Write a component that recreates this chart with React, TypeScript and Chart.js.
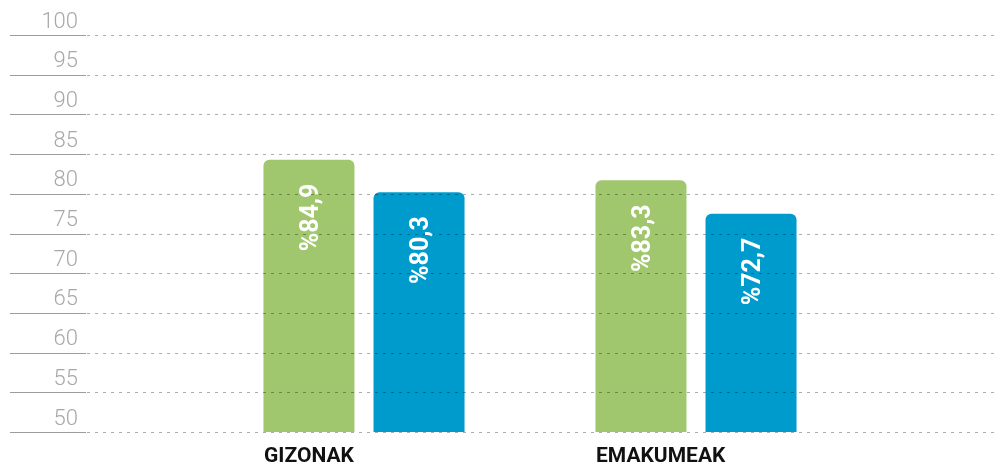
import React, { useEffect, useRef } from "react";
import { Chart, registerables } from "chart.js";

Chart.register(...registerables);

const categories = ["GIZONAK", "EMAKUMEAK"];
const greenValues = [84.3, 81.7];
const blueValues = [80.2, 77.5];
const greenLabels = ["%84,9", "%83,3"];
const blueLabels = ["%80,3", "%72,7"];
const yMin = 50;
const yMax = 100;
const yStep = 5;

const GREEN = "#a0c76e";
const BLUE = "#009bcd";

const gridPlugin = {
  id: "customGrid",
  afterDatasetsDraw(chart: any) {
    const ctx = chart.ctx;
    const y = chart.scales.y;
    ctx.save();
    y.ticks.forEach((t: any) => {
      const py = Math.round(y.getPixelForValue(t.value)) + 0.5;
      ctx.setLineDash([]);
      ctx.strokeStyle = "#9c9c9c";
      ctx.lineWidth = 1.2;
      ctx.beginPath();
      ctx.moveTo(10, py);
      ctx.lineTo(86, py);
      ctx.stroke();
      ctx.setLineDash([3, 5]);
      ctx.strokeStyle = "rgba(0,0,0,0.33)";
      ctx.lineWidth = 1;
      ctx.beginPath();
      ctx.moveTo(87, py);
      ctx.lineTo(chart.width, py);
      ctx.stroke();
    });
    ctx.restore();
  },
};

const labelPlugin = {
  id: "barLabels",
  afterDatasetsDraw(chart: any) {
    const ctx = chart.ctx;
    const allLabels = [greenLabels, blueLabels];
    ctx.save();
    chart.data.datasets.forEach((_: any, di: number) => {
      const meta = chart.getDatasetMeta(di);
      meta.data.forEach((el: any, i: number) => {
        ctx.save();
        ctx.translate(el.x, el.y + 24);
        ctx.rotate(-Math.PI / 2);
        ctx.fillStyle = "#ffffff";
        ctx.font = "bold 25px Roboto";
        ctx.textAlign = "right";
        ctx.textBaseline = "alphabetic";
        ctx.fillText(allLabels[di][i], 0, 9);
        ctx.restore();
      });
    });
    ctx.restore();
  },
};

export default function App() {
  const canvasRef = useRef<HTMLCanvasElement | null>(null);

  useEffect(() => {
    if (!canvasRef.current) return;
    const chart = new Chart(canvasRef.current, {
      type: "bar",
      data: {
        labels: categories,
        datasets: [
          {
            data: greenValues,
            backgroundColor: GREEN,
            borderRadius: 6,
            borderSkipped: "start",
            categoryPercentage: 0.663,
            barPercentage: 0.827,
          },
          {
            data: blueValues,
            backgroundColor: BLUE,
            borderRadius: 6,
            borderSkipped: "start",
            categoryPercentage: 0.663,
            barPercentage: 0.827,
          },
        ],
      },
      options: {
        responsive: true,
        maintainAspectRatio: false,
        animation: false,
        layout: { padding: { top: 35, right: 135, left: 0, bottom: 0 } },
        plugins: {
          legend: { display: false },
          tooltip: { enabled: false },
        },
        scales: {
          x: {
            type: "category",
            offset: true,
            grid: { display: false, drawTicks: false },
            border: { display: false },
            ticks: {
              align: "start",
              labelOffset: -100,
              padding: 12,
              color: "#111111",
              maxRotation: 0,
              autoSkip: false,
              font: { family: "Roboto", weight: "bold", size: 21 },
            },
            afterFit: (s: any) => {
              s.height = 36;
            },
          },
          y: {
            min: yMin,
            max: yMax,
            grid: { display: false, drawTicks: false },
            border: { display: false },
            ticks: {
              stepSize: yStep,
              padding: 120,
              labelOffset: -13,
              color: "#a8a8a8",
              font: { family: "Roboto", weight: "300", size: 22 },
            },
            afterFit: (s: any) => {
              s.width = 198;
              s.paddingTop = 0;
              s.paddingBottom = 0;
            },
          },
        },
      } as any,
      plugins: [gridPlugin, labelPlugin],
    });
    return () => chart.destroy();
  }, []);

  return (
    <div style={{ position: "absolute", left: 0, top: 0, width: 997, height: 468 }}>
      <canvas ref={canvasRef} />
    </div>
  );
}
